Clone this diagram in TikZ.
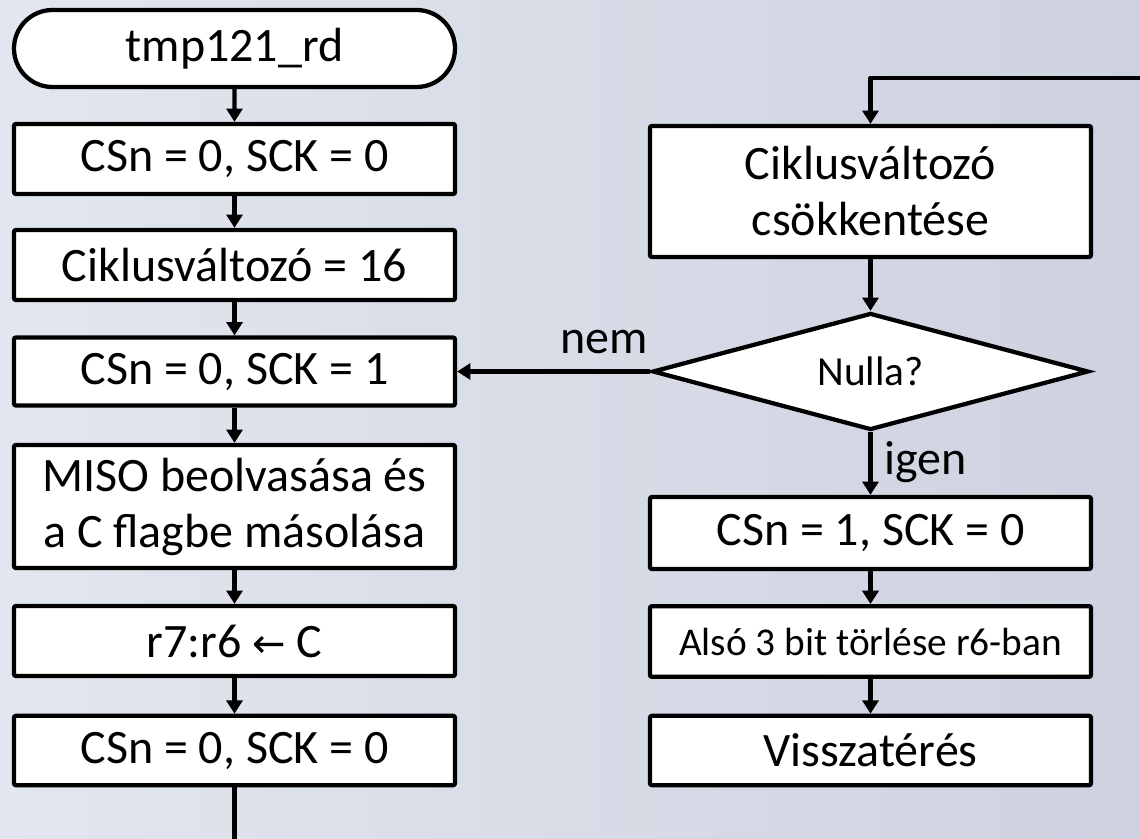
\documentclass[tikz,border=0pt]{standalone}
\usepackage{fontspec}
\setmainfont{Carlito}
\newfontfamily\symfont{DejaVu Sans}
\usetikzlibrary{arrows.meta,shapes.geometric,shapes.misc}
\definecolor{bgl}{RGB}{226,230,238}
\definecolor{bgr}{RGB}{206,210,224}
\begin{document}
\begin{tikzpicture}[x=0.75pt,y=-0.75pt,
  every node/.style={font=\fontsize{36}{42}\selectfont},
  stepbox/.style={draw=black,fill=white,line width=3.2pt,rounded corners=1.5pt,
    minimum width=330.75pt,inner sep=0pt,align=center},
  termbox/.style={draw=black,fill=white,line width=3.2pt,rounded rectangle,
    minimum width=330.75pt,minimum height=57.75pt,inner sep=0pt},
  decision/.style={draw=black,fill=white,line width=3.2pt,diamond,
    minimum width=327pt,minimum height=87.75pt,inner sep=0pt,aspect=3.7},
  nullafont/.style={font=\fontsize{31}{36}\selectfont},
  small/.style={font=\fontsize{29.5}{35}\selectfont},
  flow/.style={line width=3.2pt,line join=round,-{Triangle[length=10pt,width=12pt]}},
  lbl/.style={inner sep=0pt}
]
\shade[left color=bgl,right color=bgr] (0,0) rectangle (1140,839);
\useasboundingbox (0,0) rectangle (1140,839);

% left column
\node[termbox] (term) at (234.5,48.5) {tmp121\_rd};
\node[stepbox,minimum height=52.5pt] (b1) at (234.5,159) {CSn = 0, SCK = 0};
\node[stepbox,minimum height=52.5pt] (b2) at (234.5,265) {Ciklusváltozó = 16};
\node[stepbox,minimum height=51pt] (b3) at (234.5,371.5) {CSn = 0, SCK = 1};
\node[stepbox,minimum height=92.25pt] (b4) at (234.5,506.5) {MISO beolvasása és\\a C flagbe másolása};
\node[stepbox,minimum height=52.5pt] (b5) at (234.5,641) {r7:r6 {\symfont\fontsize{30}{36}\selectfont ←} C};
\node[stepbox,minimum height=52pt] (b6) at (234.5,750.5) {CSn = 0, SCK = 0};
\coordinate (lend) at (234.5,841);

% right column
\coordinate (rstart) at (1142,78);
\coordinate (rcorner) at (870.5,78);
\node[stepbox,minimum height=98.25pt] (r1) at (870.5,191.5) {Ciklusváltozó\\csökkentése};
\node[decision,nullafont] (dia) at (870.5,371.5) {Nulla?};
\node[stepbox,minimum height=54pt] (r2) at (870.5,533) {CSn = 1, SCK = 0};
\node[stepbox,minimum height=53pt,small] (r3) at (870.5,641.5) {Alsó 3 bit törlése r6-ban};
\node[stepbox,minimum height=52pt] (r4) at (870.5,750.5) {Visszatérés};

% connectors
\draw[flow] (term) -- (b1);
\draw[flow] (b1) -- (b2);
\draw[flow] (b2) -- (b3);
\draw[flow] (b3) -- (b4);
\draw[flow] (b4) -- (b5);
\draw[flow] (b5) -- (b6);
\draw[line width=3.2pt] (b6) -- (lend);

\draw[flow] (rstart) -- (rcorner) -- (r1);
\draw[flow] (r1) -- (dia);
\draw[flow] (dia.west) -- (b3.east);
\draw[flow] (dia.south) -- (r2);
\draw[flow] (r2) -- (r3);
\draw[flow] (r3) -- (r4);

\node[lbl,anchor=base] (nem) at (604.5,353) {nem};
\node[lbl,anchor=base west] (igen) at (884,474) {igen};
\end{tikzpicture}
\end{document}
